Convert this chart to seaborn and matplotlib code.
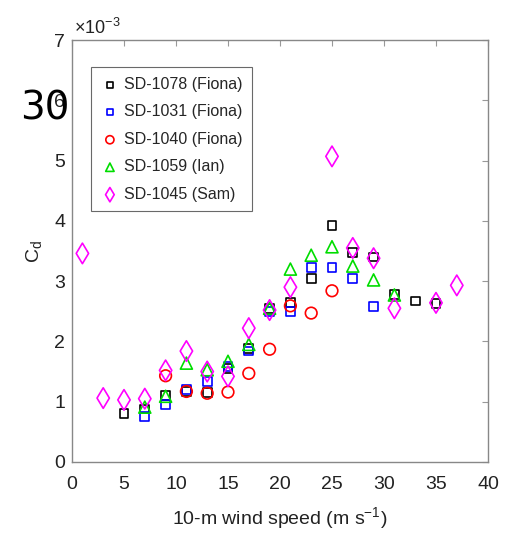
import seaborn as sns
import matplotlib
matplotlib.use("Agg")
import matplotlib.pyplot as plt
import numpy as np
import pandas as pd

# wind speed (m/s) and drag coefficient (x 1e-3)
labels = ['SD-1078 (Fiona)', 'SD-1031 (Fiona)', 'SD-1040 (Fiona)', 'SD-1059 (Ian)', 'SD-1045 (Sam)']

u_1078 = [5, 7, 9, 11, 13, 15, 17, 19, 21, 23, 25, 27, 29, 31, 33, 35]
cd_1078 = [0.81, 0.88, 1.10, 1.17, 1.15, 1.55, 1.88, 2.55, 2.65, 3.05, 3.92, 3.48, 3.40, 2.78, 2.67, 2.63]

u_1031 = [7, 9, 11, 13, 15, 17, 19, 21, 23, 25, 27, 29]
cd_1031 = [0.75, 0.95, 1.20, 1.33, 1.58, 1.84, 2.50, 2.49, 3.22, 3.22, 3.04, 2.58]

u_1040 = [9, 11, 13, 15, 17, 19, 21, 23, 25]
cd_1040 = [1.43, 1.17, 1.14, 1.16, 1.47, 1.87, 2.59, 2.47, 2.84]

u_1059 = [7, 9, 11, 13, 15, 17, 19, 21, 23, 25, 27, 29, 31]
cd_1059 = [0.91, 1.09, 1.64, 1.53, 1.67, 1.95, 2.55, 3.20, 3.43, 3.57, 3.25, 3.02, 2.77]

u_1045 = [1, 3, 5, 7, 9, 11, 13, 15, 17, 19, 21, 25, 27, 29, 31, 35, 37]
cd_1045 = [3.46, 1.06, 1.03, 1.05, 1.52, 1.84, 1.50, 1.42, 2.22, 2.52, 2.90, 5.07, 3.55, 3.38, 2.55, 2.64, 2.93]

series = [
    (labels[0], u_1078, cd_1078, 's', '#000000', 40),
    (labels[1], u_1031, cd_1031, 's', '#0000ff', 40),
    (labels[2], u_1040, cd_1040, 'o', '#ff0000', 70),
    (labels[3], u_1059, cd_1059, '^', '#00dd00', 75),
    (labels[4], u_1045, cd_1045, 'd', '#ff00ff', 110),
]

sns.set_style("white")
plt.rcParams['font.family'] = ['Liberation Sans', 'DejaVu Sans']
plt.rcParams['mathtext.fontset'] = 'custom'
plt.rcParams['mathtext.rm'] = 'Liberation Sans'
plt.rcParams['mathtext.it'] = 'Liberation Sans'

fig = plt.figure(figsize=(5.06, 5.37), dpi=100)
ax = fig.add_axes([0.1423, 0.1397, 0.8221, 0.7858])

for name, u, cd, mk, col, sz in series:
    df = pd.DataFrame({'u': u, 'cd': cd})
    sns.scatterplot(data=df, x='u', y='cd', marker=mk, s=sz, facecolor='none',
                    edgecolor=col, linewidth=1.2, label=name, ax=ax)

ax.set_xlim(0, 40)
ax.set_ylim(0, 7)
ax.set_xticks(np.arange(0, 41, 5))
ax.set_yticks(np.arange(0, 8, 1))
ax.tick_params(direction='in', length=4, width=0.8, color='#999999',
               top=True, right=True, labelsize=14, labelcolor='#222222')
ax.tick_params(axis='x', pad=10)
ax.tick_params(axis='y', pad=5)
for sp in ax.spines.values():
    sp.set_color('#888888')
    sp.set_linewidth(1.0)

ax.set_xlabel('10-m wind speed (m s$^{-1}$)', fontsize=14, color='#222222', labelpad=9)
ax.set_ylabel('C$_{\\mathrm{d}}$', fontsize=14, color='#222222', labelpad=7)
ax.text(0.005, 1.005, r'$\times$10$^{-3}$', transform=ax.transAxes, fontsize=13,
        color='#222222', va='bottom', ha='left')

leg = ax.legend(loc='upper left', bbox_to_anchor=(0.045, 0.935), fontsize=11.5,
                frameon=True, fancybox=False, edgecolor='#444444', markerscale=0.7,
                labelspacing=0.78, handletextpad=0.3, handlelength=1.2,
                borderpad=0.6, borderaxespad=0)
leg.get_frame().set_linewidth(0.8)

# large annotation number sitting over the y tick labels, as in the source image
fig.text(0.04, (537 - 120) / 537, '30', fontsize=28, color='black',
         family='DejaVu Sans', va='baseline', ha='left')

fig.savefig('out.png', dpi=100)
